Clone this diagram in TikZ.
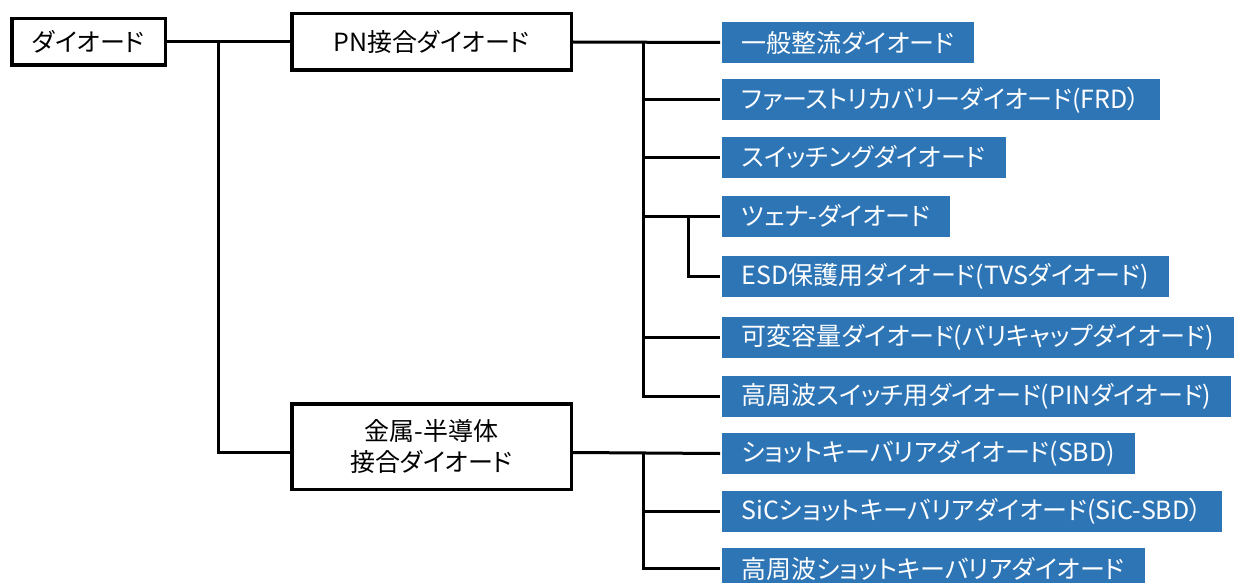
\documentclass[tikz,border=0pt]{standalone}
\usepackage{fontspec}
\setmainfont{Noto Sans CJK JP}[RawFeature=+palt]
\definecolor{leafblue}{RGB}{46,117,182}

\begin{document}
\begin{tikzpicture}[
  x = 1pt, y = -1pt,
  line width = 3pt,
  root/.style = {draw, line width = 3.5pt, fill = white, inner sep = 0pt, align = center,
                 font = \fontsize{25}{31}\selectfont},
  leaf/.style = {fill = leafblue, text = white, anchor = west, inner xsep = 20pt, inner ysep = 0pt,
                 minimum height = 41pt, font = \fontsize{25}{30}\selectfont},
  ]
  \useasboundingbox (0,0) rectangle (1236,583);
  % left column
  \node[root, minimum width = 153.5pt, minimum height = 46.5pt] (diode) at (88.5,42) {ダイオード};
  \node[root, minimum width = 279.5pt, minimum height = 56.5pt] (pn) at (431.5,42) {PN接合ダイオード};
  \node[root, minimum width = 279.5pt, minimum height = 85.5pt] (metal) at (431.5,446.5) {金属-半導体\\接合ダイオード};
  % right column
  \node[leaf] (n1) at (720,42.5) {一般整流ダイオード};
  \node[leaf] (n2) at (720,100) {ファーストリカバリーダイオード(FRD）};
  \node[leaf] (n3) at (720,157) {スイッチングダイオード};
  \node[leaf] (n4) at (720,216) {ツェナ-ダイオード};
  \node[leaf] (n5) at (720,276) {ESD保護用ダイオード(TVSダイオード)};
  \node[leaf] (n6) at (720,337) {可変容量ダイオード(バリキャップダイオード)};
  \node[leaf] (n7) at (720,396) {高周波スイッチ用ダイオード(PINダイオード)};
  \node[leaf] (n8) at (720,453.5) {ショットキーバリアダイオード(SBD)};
  \node[leaf] (n9) at (720,511.5) {SiCショットキーバリアダイオード(SiC-SBD）};
  \node[leaf] (n10) at (720,568.5) {高周波ショットキーバリアダイオード};
  % connectors
  \coordinate (trunk) at (218,42);
  \coordinate (pnfork) at (643,42);
  \coordinate (zfork) at (688,216);
  \coordinate (mfork) at (643,453.5);
  \draw (diode.east) -- (pn.west);
  \draw (trunk) |- ([yshift = -6pt]metal.west);
  \draw (pn.east) -- (n1.west);
  \foreach \n in {n2,n3,n4,n6,n7}
    \draw (pnfork) |- (\n.west);
  \draw (zfork) |- (n5.west);
  \draw ([yshift = -6pt]metal.east) -- (n8.west);
  \foreach \n in {n9,n10}
    \draw (mfork) |- (\n.west);
\end{tikzpicture}
\end{document}
